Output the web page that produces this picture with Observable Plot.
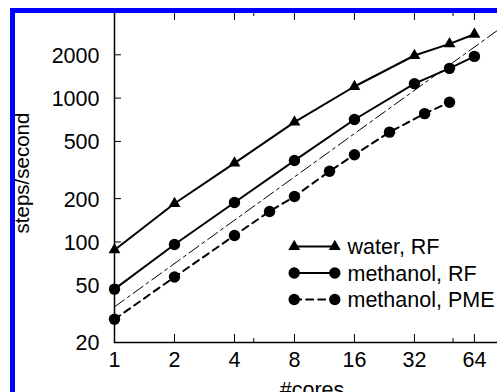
<!DOCTYPE html>
<html>
<head>
<meta charset="utf-8">
<script src="https://cdn.jsdelivr.net/npm/d3@7"></script>
<script src="https://cdn.jsdelivr.net/npm/@observablehq/plot@0.6"></script>
<style>
  html, body { margin: 0; padding: 0; background: #fff; overflow: hidden; width: 497px; height: 392px; }
  #wrap { position: relative; width: 497px; height: 392px; overflow: hidden; }
  #chart { position: absolute; left: 0; top: 0; width: 510px; height: 410px; }
  #chart svg { max-width: none !important; }
  #border { position: absolute; left: 10px; top: 8px; width: 700px; height: 600px;
            border-left: 5px solid #0000ff; border-top: 5px solid #0000ff; z-index: 2; pointer-events: none; }
</style>
</head>
<body>
<div id="wrap"><div id="chart"></div><div id="border"></div></div>
<script>
// ---- data ----
const waterCores = [1, 2, 4, 8, 16, 32, 48, 64];
const waterRF    = [88, 185, 353, 680, 1204, 1978, 2381, 2781];
const methCores  = [1, 2, 4, 8, 16, 32, 48, 64];
const methRF     = [47, 96, 188, 368, 710, 1260, 1610, 1950];
const pmeCores   = [1, 2, 4, 6, 8, 12, 16, 24, 36, 48];
const methPME    = [29, 57, 111, 163, 207, 310, 404, 580, 780, 935];
const idealCores = [1, 96];
const idealRate  = [35.4, 3398];
const xTicks      = [1, 2, 4, 8, 16, 32, 64];
const xMinorTicks = [5, 50];
const yTicks      = [20, 50, 100, 200, 500, 1000, 2000];
const seriesNames = ["water, RF", "methanol, RF", "methanol, PME"];
const xLabel = "#cores";
const yLabel = "steps/second";

const toRows = (xs, ys) => xs.map((c, i) => ({cores: c, rate: ys[i]}));
const water = toRows(waterCores, waterRF);
const meth  = toRows(methCores, methRF);
const pme   = toRows(pmeCores, methPME);
const ideal = toRows(idealCores, idealRate);

const FONT = "'Liberation Sans', Arial, Helvetica, sans-serif";
const FS = 21.5;
const lineShape = { draw(ctx, l) { ctx.moveTo(0, 0); ctx.lineTo(0, -l); } };

const seriesStyle = [
  {symbol: "triangle", r: 4.4, dash: null},
  {symbol: "circle",   r: 5.7, dash: null},
  {symbol: "circle",   r: 5.7, dash: "7,5"}
];

const legendMarks = [];
seriesNames.forEach((name, i) => {
  const rowY = 235 + i * 26.5;
  const st = seriesStyle[i];
  legendMarks.push(
    Plot.vector([0], {x: null, y: null, frameAnchor: "top-left", dx: 179.7, dy: rowY,
      rotate: 90, length: 40.6, anchor: "start", shape: lineShape,
      stroke: "black", strokeWidth: 2, strokeDasharray: st.dash}),
    Plot.dot([0], {x: null, y: null, frameAnchor: "top-left", dx: 179.7, dy: rowY,
      symbol: st.symbol, r: st.r, fill: "black", stroke: null}),
    Plot.dot([0], {x: null, y: null, frameAnchor: "top-left", dx: 220.3, dy: rowY,
      symbol: st.symbol, r: st.r, fill: "black", stroke: null}),
    Plot.text([name], {frameAnchor: "top-left", dx: 233, dy: rowY + 1, text: d => d,
      textAnchor: "start", lineAnchor: "middle", fill: "black", fontSize: FS})
  );
});

const chart = Plot.plot({
  width: 510,
  height: 410,
  marginLeft: 114,
  marginRight: 1,
  marginTop: 11,
  marginBottom: 68,
  style: {fontFamily: FONT, fontSize: "21px", color: "black", background: "transparent", maxWidth: "none"},
  x: {type: "log", base: 2, domain: [1, 96]},
  y: {type: "log", domain: [20, 4000]},
  marks: [
    Plot.line(ideal, {x: "cores", y: "rate", stroke: "black", strokeWidth: 1, strokeDasharray: "12,4,3,4"}),
    Plot.line(water, {x: "cores", y: "rate", stroke: "black", strokeWidth: 2}),
    Plot.dot(water, {x: "cores", y: "rate", symbol: "triangle", r: 4.4, fill: "black", stroke: null}),
    Plot.line(meth, {x: "cores", y: "rate", stroke: "black", strokeWidth: 2}),
    Plot.dot(meth, {x: "cores", y: "rate", symbol: "circle", r: 5.7, fill: "black", stroke: null}),
    Plot.line(pme, {x: "cores", y: "rate", stroke: "black", strokeWidth: 2, strokeDasharray: "7,5"}),
    Plot.dot(pme, {x: "cores", y: "rate", symbol: "circle", r: 5.7, fill: "black", stroke: null}),
    Plot.frame({stroke: "black", strokeWidth: 1.5}),
    Plot.axisY({ticks: yTicks, tickSize: -7, tickFormat: () => "", label: null}),
    Plot.axisX({anchor: "bottom", ticks: xTicks, tickSize: -8, tickFormat: () => "", label: null}),
    Plot.axisX({anchor: "bottom", ticks: xMinorTicks, tickSize: -4, tickFormat: () => "", label: null}),
    Plot.axisX({anchor: "top", ticks: xTicks, tickSize: -8, tickFormat: () => "", label: null}),
    Plot.axisX({anchor: "top", ticks: xMinorTicks, tickSize: -4, tickFormat: () => "", label: null}),
    Plot.text(yTicks, {y: d => d, text: d => `${d}`, frameAnchor: "left", dx: -15, dy: 1,
      textAnchor: "end", lineAnchor: "middle", fontSize: FS, fill: "black"}),
    Plot.text(xTicks, {x: d => d, text: d => `${d}`, frameAnchor: "bottom", dy: 9.5,
      textAnchor: "middle", lineAnchor: "top", fontSize: FS, fill: "black"}),
    Plot.text([xLabel], {frameAnchor: "bottom", dy: 39, textAnchor: "middle", lineAnchor: "top",
      text: d => d, fill: "black", fontSize: FS}),
    Plot.text([yLabel], {frameAnchor: "left", dx: -92, dy: -4, rotate: -90, textAnchor: "middle",
      lineAnchor: "middle", text: d => d, fontSize: 20.5, fill: "black"}),
    ...legendMarks
  ]
});
document.getElementById("chart").appendChild(chart);
</script>
</body>
</html>
